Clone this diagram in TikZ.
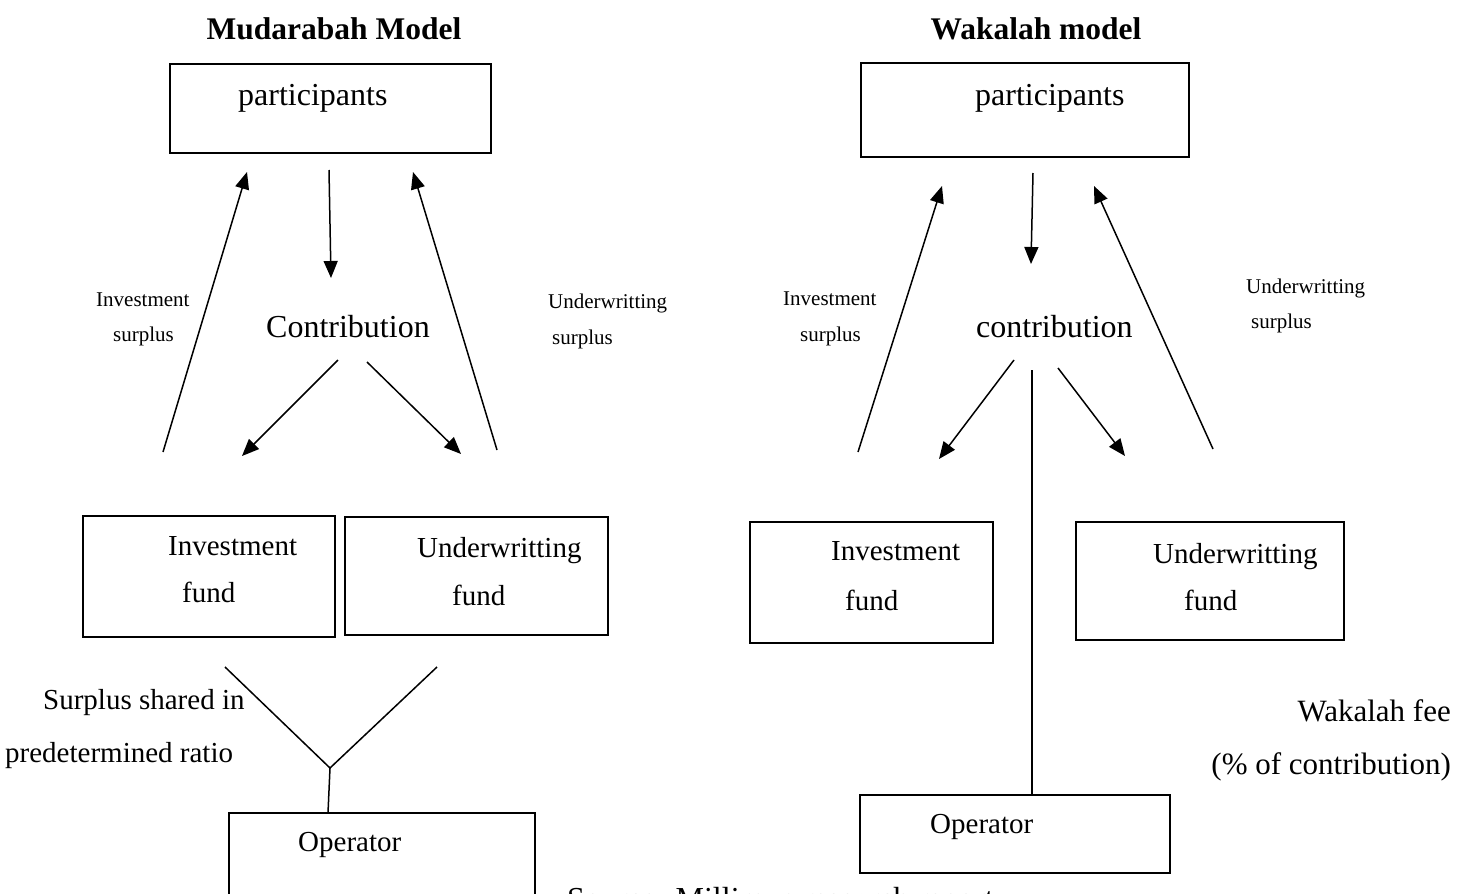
\documentclass[tikz,border=0pt]{standalone}
\usepackage{fontspec}
\setmainfont{Liberation Serif}
\usetikzlibrary{arrows.meta}
\begin{document}
\begin{tikzpicture}[x=1pt,y=-1pt,
  big/.style={font=\fontsize{32}{38}\selectfont, inner sep=0pt, anchor=base west},
  mid/.style={font=\fontsize{29}{35}\selectfont, inner sep=0pt, anchor=base west},
  side/.style={font=\fontsize{31}{37}\selectfont, inner sep=0pt, anchor=base east},
  small/.style={font=\fontsize{21}{25}\selectfont, inner sep=0pt, anchor=base west},
  ttl/.style={font=\fontsize{31.5}{38}\selectfont\bfseries, inner sep=0pt, anchor=base},
  box/.style={draw, line width=1.7pt, inner sep=0pt, outer sep=0pt, rectangle},
  arr/.style={line width=1.5pt, -{Triangle[length=17pt,width=14pt]}},
  ln/.style={line width=1.5pt}]
\useasboundingbox (0,0) rectangle (1468,894);
\clip (0,0) rectangle (1468,894);

% ---------------- Mudarabah model ----------------
\node[ttl] (titleL) at (334,39) {Mudarabah Model};
\node[box, minimum width=321pt, minimum height=89pt] (pL) at (330.5,108.5) {};
\node[big] (pLt) at (238,105) {participants};

\coordinate (dLa) at (329,170);  \coordinate (dLb) at (331,278);
\coordinate (uLa) at (163,452);  \coordinate (uLb) at (247,172);
\coordinate (uRa) at (497,450);  \coordinate (uRb) at (413,172);
\coordinate (cLa) at (338,360);  \coordinate (cLb) at (242,456);
\coordinate (cRa) at (367,362);  \coordinate (cRb) at (461,454);
\draw[arr] (dLa) -- (dLb);
\draw[arr] (uLa) -- (uLb);
\draw[arr] (uRa) -- (uRb);
\draw[arr] (cLa) -- (cLb);
\draw[arr] (cRa) -- (cRb);

\node[big] (contL) at (266,337) {Contribution};
\node[small] (isL1) at (96,306) {Investment};
\node[small] (isL2) at (113,341) {surplus};
\node[small] (usL1) at (548,308) {Underwritting};
\node[small] (usL2) at (552,344) {surplus};

\node[box, minimum width=252pt, minimum height=121pt] (ifL) at (209,576.5) {};
\node[mid] (ifL1) at (168,555) {Investment};
\node[mid] (ifL2) at (182,602) {fund};
\node[box, minimum width=263pt, minimum height=118pt] (ufL) at (476.5,576) {};
\node[mid] (ufL1) at (417,557) {Underwritting};
\node[mid] (ufL2) at (452,605) {fund};

\node[box, minimum width=306pt, minimum height=117pt] (opL) at (382,871.5) {};
\node[mid] (opLt) at (298,851) {Operator};

\coordinate (vA) at (225,667);
\coordinate (vB) at (437,667);
\coordinate (vJ) at (330,768);
\draw[ln] (vA) -- (vJ) -- (vB);
\draw[ln] (vJ) -- (opL.north -| 328,0);

\node[mid] (sh1) at (43,709) {Surplus shared in};
\node[mid] (sh2) at (5,762) {predetermined ratio};

\node[font=\fontsize{32}{38}\selectfont, inner sep=0pt, anchor=base west] (src) at (567,909) {Source: Milliman research report};

% ---------------- Wakalah model ----------------
\node[ttl] (titleR) at (1036,39) {Wakalah model};
\node[box, minimum width=328pt, minimum height=94pt] (pR) at (1025,110) {};
\node[big] (pRt) at (975,105) {participants};

\coordinate (dRa) at (1033,173);  \coordinate (dRb) at (1031,264);
\coordinate (wLa) at (858,452);   \coordinate (wLb) at (942,186);
\coordinate (wRa) at (1213,449);  \coordinate (wRb) at (1094,186);
\coordinate (kLa) at (1014,360);  \coordinate (kLb) at (939,459);
\coordinate (kRa) at (1058,368);  \coordinate (kRb) at (1125,456);
\coordinate (fee) at (1032,370);
\draw[arr] (dRa) -- (dRb);
\draw[arr] (wLa) -- (wLb);
\draw[arr] (wRa) -- (wRb);
\draw[arr] (kLa) -- (kLb);
\draw[arr] (kRa) -- (kRb);

\node[big] (contR) at (976,337) {contribution};
\node[small] (isR1) at (783,305) {Investment};
\node[small] (isR2) at (800,341) {surplus};
\node[small] (usR1) at (1246,293) {Underwritting};
\node[small] (usR2) at (1251,328) {surplus};

\node[box, minimum width=243pt, minimum height=121pt] (ifR) at (871.5,582.5) {};
\node[mid] (ifR1) at (831,560) {Investment};
\node[mid] (ifR2) at (845,610) {fund};
\node[box, minimum width=268pt, minimum height=118pt] (ufR) at (1210,581) {};
\node[mid] (ufR1) at (1153,563) {Underwritting};
\node[mid] (ufR2) at (1184,610) {fund};

\node[box, minimum width=310pt, minimum height=78pt] (opR) at (1015,834) {};
\node[mid] (opRt) at (930,833) {Operator};
\draw[ln] (fee) -- (opR.north -| fee);

\node[side] (wf1) at (1451,721) {Wakalah fee};
\node[side] (wf2) at (1451,774) {(\% of contribution)};
\end{tikzpicture}
\end{document}
